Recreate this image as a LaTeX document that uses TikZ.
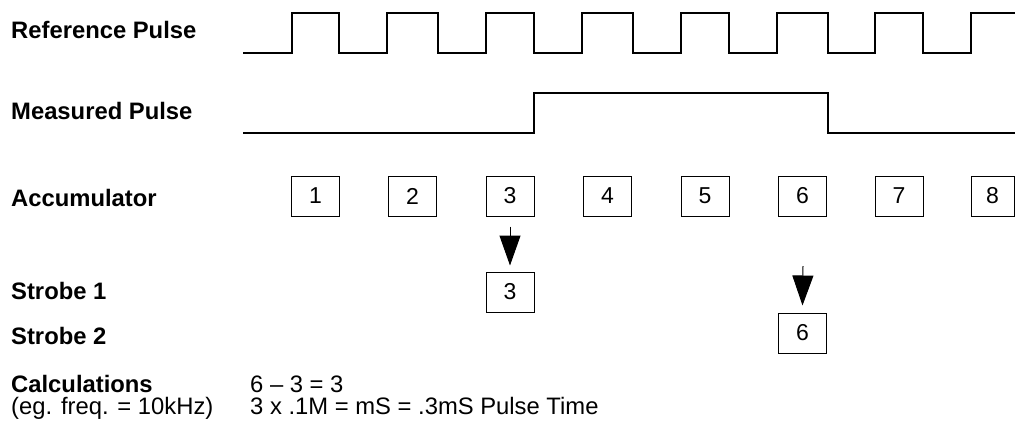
\documentclass[tikz,border=0pt]{standalone}
\usepackage{fontspec}
\setmainfont{Liberation Sans}
\usetikzlibrary{arrows.meta}
\begin{document}
\begin{tikzpicture}[x=1pt,y=-1pt,
  lbl/.style={anchor=base west,inner sep=0pt,font=\fontsize{23.8}{28}\selectfont\bfseries},
  txt/.style={anchor=base west,inner sep=0pt,font=\fontsize{23.8}{28}\selectfont},
  acc/.style={draw,line width=1pt,minimum width=48pt,minimum height=40pt,inner sep=0pt,font=\fontsize{23}{28}\selectfont},
  wave/.style={line width=1.2pt,line join=miter},
  strobe/.style={line width=1pt,-{Triangle[length=30pt,width=21pt]}}]
\useasboundingbox (0,0) rectangle (1015,424);
% labels
\node[lbl] (lref) at (11,38) {Reference Pulse};
\node[lbl] (lmeas) at (11,119) {Measured Pulse};
\node[lbl] (lacc) at (11,206) {Accumulator};
\node[lbl] (ls1) at (11,299) {Strobe 1};
\node[lbl] (ls2) at (11,344) {Strobe 2};
\node[lbl] (lcalc) at (11,392) {Calculations};
\node[txt] (leg) at (11,414) {(eg. freq. = 10kHz)};
\node[txt] (c1) at (250,392) {6 -- 3 = 3};
\node[txt] (c2) at (250,414) {3 x .1M = mS = .3mS Pulse Time};
% reference pulse
\draw[wave] (243,53) -- (292,53) -- (292,13) -- (339,13) -- (339,53)
  -- (387,53) -- (387,13) -- (438,13) -- (438,53)
  -- (486,53) -- (486,13) -- (534,13) -- (534,53)
  -- (582,53) -- (582,13) -- (633,13) -- (633,53)
  -- (681,53) -- (681,13) -- (729,13) -- (729,53)
  -- (777,53) -- (777,13) -- (828,13) -- (828,53)
  -- (875,53) -- (875,13) -- (923,13) -- (923,53)
  -- (971,53) -- (971,13) -- (1015,13);
% measured pulse
\draw[wave] (243,133) -- (534,133) -- (534,93) -- (828,93) -- (828,133) -- (1015,133);
% accumulator boxes
\node[acc] (a1) at (315.5,196) {1};
\node[acc] (a2) at (412.5,196) {2};
\node[acc] (a3) at (510,196) {3};
\node[acc] (a4) at (607.5,196) {4};
\node[acc] (a5) at (705,196) {5};
\node[acc] (a6) at (802.5,196) {6};
\node[acc] (a7) at (899,196) {7};
\node[acc,minimum width=43pt] (a8) at (992.5,196) {8};
% strobe boxes
\node[acc] (s1) at (510,292) {3};
\node[acc] (s2) at (802.5,333) {6};
\coordinate (st2) at (803,266);
\draw[strobe] ([yshift=-10pt]a3.south) -- ([yshift=6pt]s1.north);
\draw[strobe] (st2) -- ([yshift=7pt]s2.north);
\end{tikzpicture}
\end{document}
